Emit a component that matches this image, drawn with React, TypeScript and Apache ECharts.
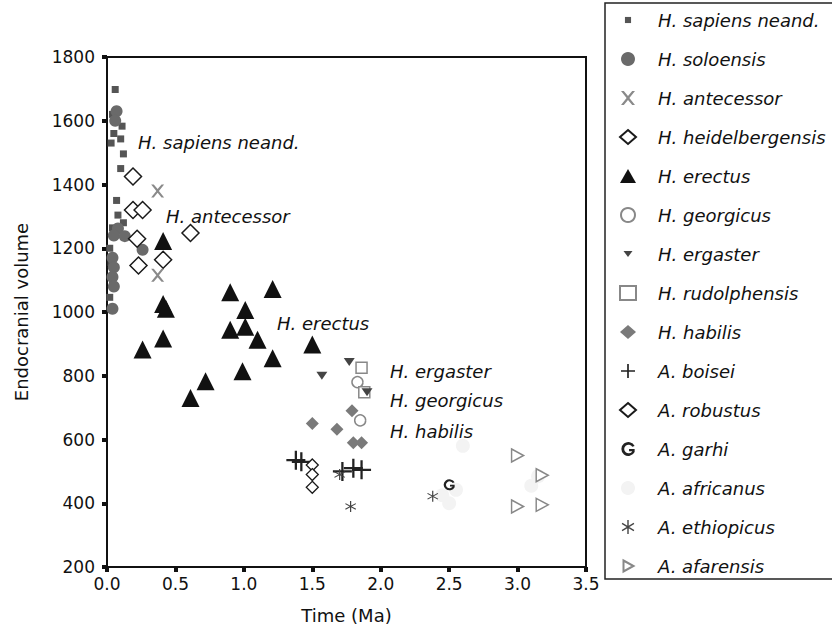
import React, { useEffect, useRef } from "react";
import * as echarts from "echarts";

// ---- data (Time in Ma, Endocranial volume) ----
const seriesNames = [
  "H. sapiens neand.",
  "H. soloensis",
  "H. antecessor",
  "H. heidelbergensis",
  "H. erectus",
  "H. georgicus",
  "H. ergaster",
  "H. rudolphensis",
  "H. habilis",
  "A. boisei",
  "A. robustus",
  "A. garhi",
  "A. africanus",
  "A. ethiopicus",
  "A. afarensis",
];

const sapiensNeand = [
  [0.06, 1698], [0.04, 1620], [0.11, 1583], [0.05, 1560], [0.1, 1543], [0.03, 1530],
  [0.12, 1496], [0.1, 1450], [0.07, 1350], [0.08, 1304], [0.12, 1280], [0.04, 1264],
  [0.02, 1200], [0.03, 1155], [0.04, 1093], [0.02, 1046],
];
const soloensis = [
  [0.07, 1630], [0.06, 1600], [0.08, 1262], [0.05, 1240], [0.13, 1238], [0.26, 1195],
  [0.04, 1170], [0.05, 1140], [0.04, 1110], [0.05, 1080], [0.04, 1010],
];
const antecessor = [[0.37, 1380], [0.37, 1115]];
const heidelbergensis = [
  [0.19, 1425], [0.19, 1320], [0.26, 1320], [0.22, 1230], [0.61, 1248], [0.41, 1164], [0.23, 1146],
];
const erectus = [
  [0.41, 1223], [0.41, 1025], [0.43, 1010], [0.41, 917], [0.26, 882], [0.9, 1062], [1.21, 1072],
  [1.01, 1006], [0.9, 944], [1.01, 954], [1.1, 913], [1.21, 855], [0.99, 814], [0.72, 783],
  [0.61, 730], [1.5, 898],
];
const georgicus = [[1.83, 780], [1.85, 660]];
const ergaster = [[1.57, 800], [1.77, 843], [1.9, 748]];
const rudolphensis = [[1.86, 825], [1.88, 748]];
const habilis = [[1.5, 650], [1.68, 632], [1.79, 690], [1.8, 590], [1.86, 590]];
const boisei = [[1.38, 535], [1.42, 530], [1.72, 500], [1.8, 510], [1.86, 505]];
const robustus = [[1.5, 520], [1.5, 490], [1.5, 450]];
const garhi = [[2.5, 458]];
const africanus = [[2.6, 580], [2.55, 442], [2.5, 400], [2.45, 425], [3.1, 455], [3.15, 485]];
const ethiopicus = [[1.7, 490], [1.78, 390], [2.38, 422]];
const afarensis = [[3.0, 550], [3.18, 488], [3.0, 390], [3.18, 395]];

const annotationNames = [
  "H. sapiens neand.",
  "H. antecessor",
  "H. erectus",
  "H. ergaster",
  "H. georgicus",
  "H. habilis",
];
const annotationX = [0.227, 0.431, 1.242, 2.068, 2.068, 2.068];
const annotationY = [1533, 1301, 965, 812, 722, 626];

const xTickLabels = ["0.0", "0.5", "1.0", "1.5", "2.0", "2.5", "3.0", "3.5"];

// ---- symbols ----
const X_PATH = "path://M0,0 L2,0 L5,3.6 L8,0 L10,0 L6,5 L10,10 L8,10 L5,6.4 L2,10 L0,10 L4,5 Z";
const PLUS_PATH =
  "path://M4.4,0 L5.6,0 L5.6,4.4 L10,4.4 L10,5.6 L5.6,5.6 L5.6,10 L4.4,10 L4.4,5.6 L0,5.6 L0,4.4 L4.4,4.4 Z";
const STAR_PATH =
  "path://M4.5,0 L5.5,0 L5.5,10 L4.5,10 Z M1,2 L9.5,7.2 L9,8 L0.5,2.8 Z M0.5,7.2 L9,2 L9.5,2.8 L1,8 Z";
const G_PATH =
  "path://M9,3 A4.5,4.5 0 1 0 9,7 L9,5 L5.4,5 L5.4,6.4 L7.5,6.4 A2.8,2.8 0 1 1 7.5,3.6 Z";
const DOWN_TRI_PATH = "path://M0,0 L10,0 L5,7 Z";
const RIGHT_TRI_PATH = "path://M0,0 L9,5 L0,10 Z";
// small icons padded inside a larger box (for the legend)
const SMALL_SQUARE_ICON = "path://M0,0 M16,16 M4.5,4.5 L11.5,4.5 L11.5,11.5 L4.5,11.5 Z";
const SMALL_DOWN_TRI_ICON = "path://M0,0 M14,14 M2.5,4 L11.5,4 L7,10 Z";
const SMALL_RIGHT_TRI_ICON = "path://M0,0 M14,14 M2.5,1.5 L12.5,7 L2.5,12.5 Z";

const FONT = "DejaVu Sans";

export default function App() {
  const ref = useRef<HTMLDivElement>(null);

  useEffect(() => {
    if (!ref.current) return;
    const chart = echarts.init(ref.current, undefined, { renderer: "svg" });

    const mk = (
      name: string,
      data: number[][],
      symbol: string,
      size: number | number[],
      itemStyle: any,
      extra: any = {}
    ) => ({
      name,
      type: "scatter",
      data,
      symbol,
      symbolSize: size,
      itemStyle: { opacity: 1, ...itemStyle },
      ...extra,
    });

    const open = (c: string, w = 1.5) => ({ color: "#ffffff", borderColor: c, borderWidth: w });

    const series: any[] = [
      mk(seriesNames[12], africanus, "circle", 14, { color: "#f3f3f3" }),
      mk(seriesNames[0], sapiensNeand, "rect", 7, { color: "#555555" }),
      mk(seriesNames[1], soloensis, "circle", 12, { color: "#6a6a6a" }),
      mk(seriesNames[2], antecessor, X_PATH, 13, { color: "#8a8a8a" }),
      mk(seriesNames[3], heidelbergensis, "diamond", 17, open("#1a1a1a", 1.5)),
      mk(seriesNames[4], erectus, "triangle", 18, { color: "#111111" }),
      mk(seriesNames[5], georgicus, "circle", 11, open("#888888", 1.5)),
      mk(seriesNames[7], rudolphensis, "rect", 11, open("#888888", 1.5)),
      mk(seriesNames[6], ergaster, DOWN_TRI_PATH, [11, 8], { color: "#444444" }),
      mk(seriesNames[8], habilis, "diamond", 13, { color: "#7a7a7a" }),
      mk(seriesNames[9], boisei, PLUS_PATH, 19, { color: "#222222" }),
      mk(seriesNames[10], robustus, "diamond", 12, open("#1a1a1a", 1.3)),
      mk(seriesNames[11], garhi, G_PATH, 11, { color: "#222222" }),
      mk(seriesNames[13], ethiopicus, STAR_PATH, 11, { color: "#444444" }),
      mk(seriesNames[14], afarensis, RIGHT_TRI_PATH, [12, 13], open("#888888", 1.5)),
      {
        name: "annotations",
        type: "scatter",
        symbolSize: 0,
        silent: true,
        itemStyle: { opacity: 1 },
        data: annotationNames.map((n, i) => ({ name: n, value: [annotationX[i], annotationY[i]] })),
        label: {
          show: true,
          position: "right",
          distance: 0,
          formatter: (p: any) => p.name,
          fontFamily: FONT,
          fontStyle: "italic",
          fontSize: 18,
          color: "#111111",
          opacity: 1,
          textBorderWidth: 0,
        },
        z: 10,
      },
    ];

    const legendIcons: Record<number, string> = {
      0: SMALL_SQUARE_ICON,
      6: SMALL_DOWN_TRI_ICON,
      14: SMALL_RIGHT_TRI_ICON,
    };
    const legendData = seriesNames.map((n, i) =>
      legendIcons[i] ? { name: n, icon: legendIcons[i] } : { name: n }
    );

    chart.setOption({
      animation: false,
      backgroundColor: "#ffffff",
      grid: {
        left: 107,
        right: 246,
        top: 57,
        bottom: 56,
        show: true,
        borderColor: "#111111",
        borderWidth: 2,
        backgroundColor: "transparent",
      },
      legend: {
        orient: "vertical",
        left: 605,
        top: 3,
        padding: [7, 60, 3, 14],
        itemWidth: 16,
        itemHeight: 14,
        itemGap: 19,
        symbolKeepAspect: true,
        borderColor: "#222222",
        borderWidth: 1.5,
        selectedMode: false,
        data: legendData,
        textStyle: {
          fontFamily: FONT,
          fontStyle: "italic",
          fontSize: 18,
          lineHeight: 20,
          color: "#111111",
          padding: [0, 0, 0, 17],
        },
      },
      xAxis: {
        type: "value",
        min: 0,
        max: 3.5,
        interval: 0.5,
        name: "Time (Ma)",
        nameLocation: "middle",
        nameGap: 39,
        nameTextStyle: { fontFamily: FONT, fontSize: 18, color: "#111111" },
        axisLine: { show: true, lineStyle: { color: "#111111", width: 2 } },
        axisTick: { show: true, length: 5, lineStyle: { color: "#111111", width: 4 } },
        axisLabel: {
          margin: 8,
          fontFamily: FONT,
          fontSize: 17,
          color: "#111111",
          formatter: (v: number) => xTickLabels[Math.round(v / 0.5)] ?? v.toFixed(1),
        },
        splitLine: { show: false },
      },
      yAxis: {
        type: "value",
        min: 200,
        max: 1800,
        interval: 200,
        name: "Endocranial volume",
        nameLocation: "middle",
        nameGap: 77,
        nameTextStyle: { fontFamily: FONT, fontSize: 18, color: "#111111" },
        axisLine: { show: true, lineStyle: { color: "#111111", width: 2 } },
        axisTick: { show: true, length: 5, lineStyle: { color: "#111111", width: 4 } },
        axisLabel: {
          margin: 12,
          fontFamily: FONT,
          fontSize: 17,
          color: "#111111",
          formatter: (v: number) => String(v),
        },
        splitLine: { show: false },
      },
      series,
    });

    return () => chart.dispose();
  }, []);

  return (
    <div
      ref={ref}
      style={{ position: "fixed", left: 0, top: 0, width: 832, height: 629, background: "#fff" }}
    />
  );
}
